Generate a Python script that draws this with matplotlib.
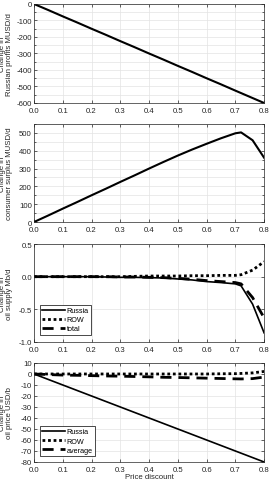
import numpy as np
import matplotlib
matplotlib.use("Agg")
import matplotlib.pyplot as plt
from matplotlib.ticker import MultipleLocator

plt.rcParams['font.family'] = ['Liberation Sans', 'DejaVu Sans']
plt.rcParams['axes.unicode_minus'] = False

# price discount grid
discount = [0, 0.05, 0.1, 0.15, 0.2, 0.25, 0.3, 0.35, 0.4, 0.45, 0.5,
            0.55, 0.6, 0.65, 0.7, 0.72, 0.76, 0.8]

# change in Russian profits, MUSD/d
russia_profits = [0, -37, -75, -112, -150, -187, -225, -262, -300, -337, -375,
                  -412, -450, -487, -525, -540, -570, -600]

# change in consumer surplus, MUSD/d
consumer_surplus = [0, 37, 75, 112, 150, 187, 225, 262, 300, 337, 373,
                    407, 439, 470, 498, 503, 459, 361]

# change in oil supply, Mb/d
supply_russia = [0, 0, 0, 0, 0, -0.005, -0.01, -0.01, -0.015, -0.02, -0.035,
                 -0.05, -0.075, -0.09, -0.11, -0.14, -0.42, -0.86]
supply_row = [0, 0, 0, 0, 0, 0, 0, 0.005, 0.01, 0.01, 0.01,
              0.015, 0.015, 0.02, 0.02, 0.03, 0.1, 0.23]
supply_total = [0, 0, 0, 0, 0, 0, -0.005, -0.005, -0.01, -0.015, -0.025,
                -0.04, -0.06, -0.075, -0.09, -0.11, -0.32, -0.63]

# change in oil price, USD/b
price_russia = [0, -5, -10, -15, -20, -25, -30, -35, -40, -45, -50,
                -55, -60, -65, -70, -72, -76, -80]
price_row = [0, 0, 0, 0, 0, 0, 0, 0, 0, 0, 0,
             0, 0, 0.2, 0.3, 0.5, 1.0, 2.3]
price_average = [0, -0.5, -1, -1.2, -1.5, -1.8, -2, -2.3, -2.6, -3, -3.2,
                 -3.5, -3.8, -4.1, -4.4, -4.5, -4.2, -2.8]

txt = '#262626'
fs = 5.6

fig = plt.figure(figsize=(2.71, 4.85), dpi=100)
left, width = 0.1255, 0.849
panels = [(0.7856, 0.2041), (0.5402, 0.2020), (0.2928, 0.2020), (0.0454, 0.2041)]
axes = [fig.add_axes([left, b, width, h]) for b, h in panels]

for ax in axes:
    ax.set_xlim(0, 0.8)
    ax.xaxis.set_major_locator(MultipleLocator(0.1))
    ax.tick_params(direction='in', length=2, width=0.5, labelsize=fs,
                   colors=txt, top=True, right=True, pad=1.5, which='both')
    ax.tick_params(axis='x', pad=2.8)
    ax.tick_params(which='minor', length=1.5)
    ax.grid(True, which='both', color='#e3e3e3', linewidth=0.5)
    ax.set_axisbelow(True)
    for s in ax.spines.values():
        s.set_linewidth(0.5)
        s.set_color(txt)
    ax.yaxis.set_label_coords(-0.09, 0.5)

lw = 1.5

ax = axes[0]
ax.plot(discount, russia_profits, color='black', lw=lw)
ax.set_ylim(-600, 0)
ax.yaxis.set_major_locator(MultipleLocator(100))
ax.yaxis.set_minor_locator(MultipleLocator(50))
ax.set_ylabel('Change in\nRussian profits MUSD/d', fontsize=fs, color=txt, linespacing=1.1)

ax = axes[1]
ax.plot(discount, consumer_surplus, color='black', lw=lw)
ax.set_ylim(0, 550)
ax.yaxis.set_major_locator(MultipleLocator(100))
ax.yaxis.set_minor_locator(MultipleLocator(50))
ax.set_ylabel('Change in\nconsumer surplus MUSD/d', fontsize=fs, color=txt, linespacing=1.1)

ax = axes[2]
ax.plot(discount, supply_russia, color='black', lw=1.2, ls='-', label='Russia')
ax.plot(discount, supply_row, color='black', lw=lw + 0.5, ls=(0, (1, 1)), label='ROW')
ax.plot(discount, supply_total, color='black', lw=lw + 0.5, ls=(0, (4, 2.5)), label='total')
ax.set_ylim(-1, 0.5)
ax.yaxis.set_major_locator(MultipleLocator(0.5))
ax.set_ylabel('Change in\noil supply Mb/d', fontsize=fs, color=txt, linespacing=1.1)
ax.legend(loc='lower left', bbox_to_anchor=(0.025, 0.075), fontsize=fs - 0.4,
          handlelength=3.2, handletextpad=0.2, borderpad=0.3, labelspacing=0.3,
          fancybox=False, edgecolor='black', framealpha=1, borderaxespad=0)
ax.get_legend().get_frame().set_linewidth(0.5)

ax = axes[3]
ax.plot(discount, price_russia, color='black', lw=1.2, ls='-', label='Russia')
ax.plot(discount, price_row, color='black', lw=lw + 0.5, ls=(0, (1, 1)), label='ROW')
ax.plot(discount, price_average, color='black', lw=lw + 0.5, ls=(0, (4, 2.5)), label='average')
ax.set_ylim(-80, 10)
ax.yaxis.set_major_locator(MultipleLocator(10))
ax.set_ylabel('Change in\noil price USD/b', fontsize=fs, color=txt, linespacing=1.1)
ax.set_xlabel('Price discount', fontsize=fs, color=txt, labelpad=0)
ax.legend(loc='lower left', bbox_to_anchor=(0.025, 0.06), fontsize=fs - 0.4,
          handlelength=3.2, handletextpad=0.2, borderpad=0.3, labelspacing=0.3,
          fancybox=False, edgecolor='black', framealpha=1, borderaxespad=0)
ax.get_legend().get_frame().set_linewidth(0.5)

fig.savefig('out.png', dpi=100)
